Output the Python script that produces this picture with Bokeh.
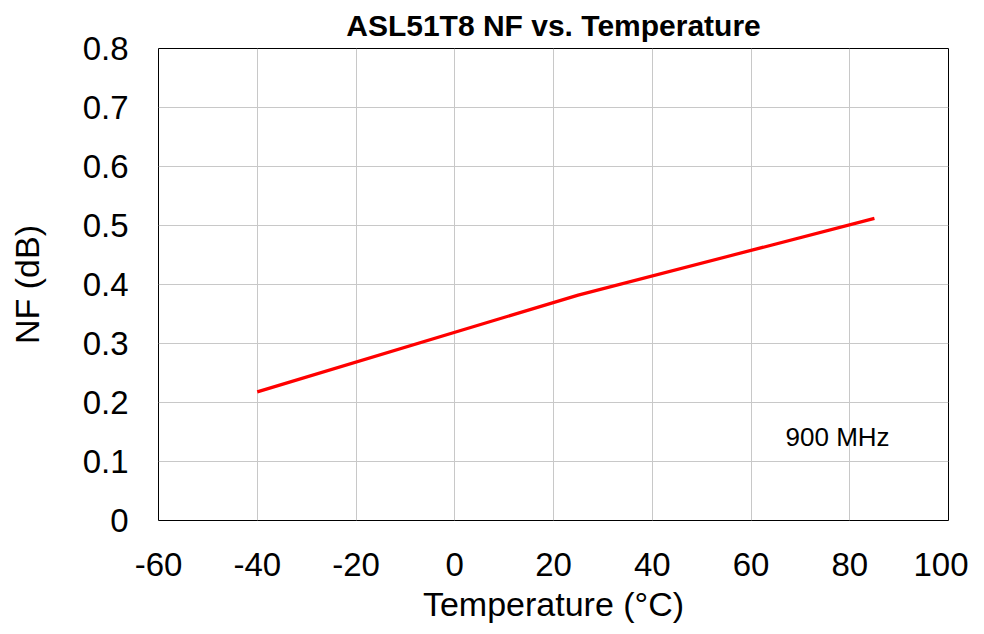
from bokeh.plotting import figure
from bokeh.models import FixedTicker, CustomJSTickFormatter, Label, Range1d
from bokeh.embed import file_html
from bokeh.resources import INLINE

# Data
temperature_c = [-40, 25, 85]
nf_db = [0.218, 0.382, 0.512]

x_ticks = [-60, -40, -20, 0, 20, 40, 60, 80, 100]
y_ticks = [0, 0.1, 0.2, 0.3, 0.4, 0.5, 0.6, 0.7, 0.8]

FONT = "Liberation Sans"

p = figure(width=968, height=626, output_backend="svg", toolbar_location=None,
           x_range=Range1d(-60, 100), y_range=Range1d(0, 0.8),
           min_border_left=158, min_border_right=20, min_border_top=48, min_border_bottom=106,
           title="ASL51T8 NF vs. Temperature")

p.title.align = "center"
p.title.text_font = FONT
p.title.text_font_size = "30px"
p.title.text_font_style = "bold"
p.title.text_color = "black"
p.title.standoff = 13

p.outline_line_color = "black"
p.outline_line_width = 1
p.outline_line_alpha = 1
p.background_fill_color = "white"
p.border_fill_color = "white"

for ax in (p.xaxis[0], p.yaxis[0]):
    ax.axis_line_color = None
    ax.major_tick_line_color = None
    ax.minor_tick_line_color = None
    ax.major_label_text_font = FONT
    ax.major_label_text_font_size = "33px"
    ax.major_label_text_color = "black"
    ax.axis_label_text_font = FONT
    ax.axis_label_text_font_size = "34px"
    ax.axis_label_text_font_style = "normal"
    ax.axis_label_text_color = "black"

p.xaxis.ticker = FixedTicker(ticks=x_ticks)
p.yaxis.ticker = FixedTicker(ticks=y_ticks)
p.xaxis.formatter = CustomJSTickFormatter(code="return String(tick);")
p.yaxis.formatter = CustomJSTickFormatter(code="return tick.toFixed(1).replace(/\\.0$/, '');")
p.xaxis.axis_label = "Temperature (°C)"
p.yaxis.axis_label = "NF (dB)"
p.xaxis.major_label_standoff = 26
p.yaxis.major_label_standoff = 24
p.xaxis.axis_label_standoff = 6
p.yaxis.axis_label_standoff = 34

p.xgrid.grid_line_color = "#c8c8c8"
p.ygrid.grid_line_color = "#c8c8c8"
p.xgrid.grid_line_width = 1
p.ygrid.grid_line_width = 1

p.line(temperature_c, nf_db, line_color="#ff0000", line_width=3.2)

p.add_layout(Label(x=67, y=0.142, text="900 MHz", text_font=FONT,
                   text_font_size="26px", text_color="black",
                   text_baseline="middle", text_align="left"))

open("out.html", "w").write(file_html(p, INLINE))
